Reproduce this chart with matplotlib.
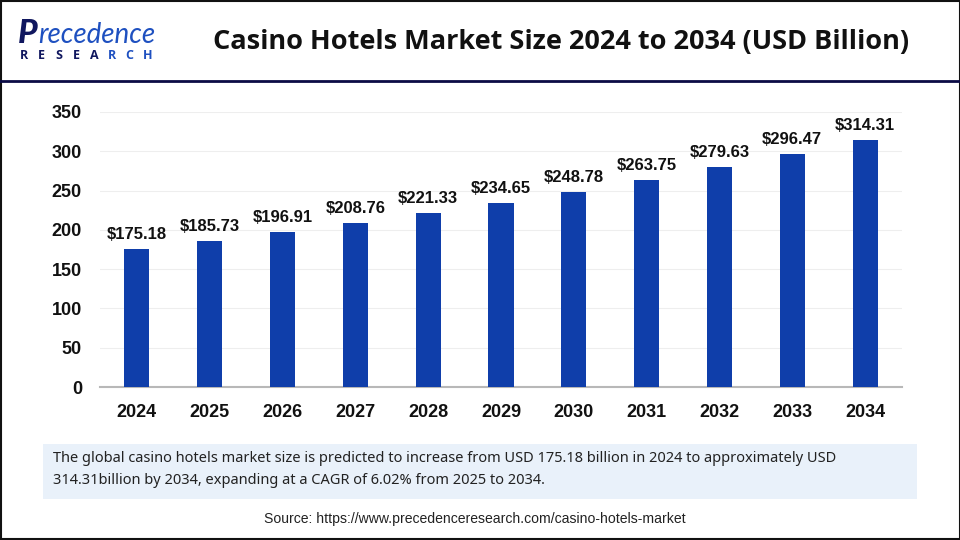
import matplotlib
matplotlib.use('Agg')
import matplotlib.pyplot as plt
from matplotlib.patches import Rectangle

years = ['2024', '2025', '2026', '2027', '2028', '2029', '2030', '2031', '2032', '2033', '2034']
values = [175.18, 185.73, 196.91, 208.76, 221.33, 234.65, 248.78, 263.75, 279.63, 296.47, 314.31]
yticks = [0, 50, 100, 150, 200, 250, 300, 350]

W, H = 960, 540
fig = plt.figure(figsize=(9.6, 5.4), dpi=100, facecolor='white')

# fondo completo en coordenadas de pixel
bg = fig.add_axes([0, 0, 1, 1])
bg.set_xlim(0, W)
bg.set_ylim(H, 0)
bg.axis('off')

# marco y linea bajo el encabezado
bg.add_patch(Rectangle((0.5, 0.5), W - 1, H - 1.5, fill=False, ec='#111111', lw=1.5))
bg.plot([0, W], [81, 81], color='#0b0b45', lw=2)

# logo
bg.text(18, 43, 'P', family='Lato', weight='black', style='italic', fontsize=24, color='#10175f', va='baseline')
bg.text(38, 43, 'recedence', family='Lato', style='italic', fontsize=20, color='#1e50c0', va='baseline')
for i, ch in enumerate('RESEARCH'):
    col = '#10175f' if i < 5 else '#1e50c0'
    bg.text(24 + i * 17.6, 55.5, ch, family='Open Sans', weight='bold', fontsize=9, color=col, ha='center', va='center')

bg.text(561, 42, 'Casino Hotels Market Size 2024 to 2034 (USD Billion)', family='Open Sans',
        weight='bold', fontsize=19.5, color='#111111', ha='center', va='center')

# caja de texto
bg.add_patch(Rectangle((43, 444), 874, 55, fc='#e9f1fa', ec='none'))
bg.text(53, 459, 'The global casino hotels market size is predicted to increase from USD 175.18 billion in 2024 to approximately USD',
        family='Noto Sans', fontsize=10.5, color='#222222', va='center')
bg.text(53, 480, '314.31billion by 2034, expanding at a CAGR of 6.02% from 2025 to 2034.',
        family='Noto Sans', fontsize=10.5, color='#222222', va='center')
bg.text(474.5, 519, 'Source: https://www.precedenceresearch.com/casino-hotels-market',
        family='Liberation Sans', fontsize=10.1, color='#222222', ha='center', va='center')

# grafico de barras
ax = fig.add_axes([100 / W, 1 - 387 / H, 802 / W, 275 / H])
ax.set_facecolor('none')
x = range(len(years))
ax.bar(x, values, width=0.345, color='#0f3eaa', zorder=3)
for xi, v in zip(x, values):
    ax.annotate(f'${v:.2f}', (xi, v), xytext=(0, 5), textcoords='offset points', ha='center', va='bottom',
                family='Liberation Sans', weight='bold', fontsize=12, color='#111111')

ax.set_xlim(-0.507, 10.507)
ax.set_ylim(0, 350)
ax.set_yticks(yticks)
ax.set_xticks(list(x))
ax.set_xticklabels(years)
ax.grid(axis='y', color='#eeeeee', lw=0.8, zorder=0)
ax.tick_params(length=0)
ax.tick_params(axis='x', pad=12)
ax.tick_params(axis='y', pad=13)
for lab in ax.get_xticklabels() + ax.get_yticklabels():
    lab.set_family('Liberation Sans')
    lab.set_weight('bold')
    lab.set_fontsize(13)
    lab.set_color('#111111')
for s in ['top', 'right', 'left']:
    ax.spines[s].set_visible(False)
ax.spines['bottom'].set_color('#b8b8b8')
ax.spines['bottom'].set_linewidth(1.5)

fig.savefig('out.png', dpi=100)
